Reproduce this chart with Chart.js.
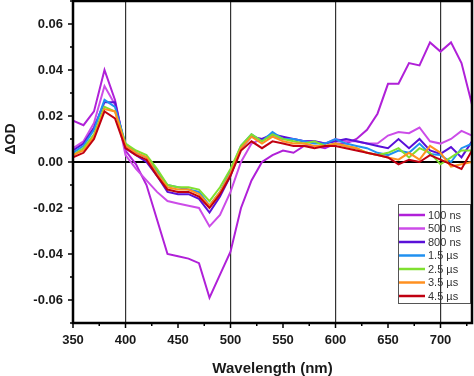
<!DOCTYPE html>
<html>
<head>
<meta charset="utf-8">
<script src="https://cdn.jsdelivr.net/npm/chart.js@4/dist/chart.umd.min.js"></script>
<style>
  html, body { margin: 0; padding: 0; background: #fff; }
</style>
</head>
<body>
<canvas id="chart" width="474" height="376"></canvas>
<script>
const wavelengths = [350, 360, 370, 380, 390, 400, 410, 420, 430, 440, 450, 460, 470, 480, 490, 500, 510, 520, 530,
  540, 550, 560, 570, 580, 590, 600, 610, 620, 630, 640, 650, 660, 670, 680, 690, 700, 710, 720, 730];

const delayLabels = ['100 ns', '500 ns', '800 ns', '1.5 µs', '2.5 µs', '3.5 µs', '4.5 µs'];
const delayColors = ['#b020d8', '#cc4ce8', '#5a10d8', '#2090f0', '#80e030', '#ff9020', '#c00010'];

const od100ns = [0.018, 0.016, 0.022, 0.040, 0.027, 0.005, -0.001, -0.010, -0.025, -0.040, -0.041, -0.042, -0.044, -0.059, -0.049, -0.039, -0.020, -0.008, 0.000,
  0.003, 0.005, 0.004, 0.007, 0.007, 0.006, 0.008, 0.008, 0.010, 0.014, 0.021, 0.034, 0.034, 0.043, 0.042, 0.052, 0.048, 0.052, 0.043, 0.025];
const od500ns = [0.006, 0.009, 0.017, 0.033, 0.025, 0.003, -0.003, -0.008, -0.013, -0.017, -0.018, -0.019, -0.020, -0.028, -0.023, -0.013, 0.000, 0.008, 0.010,
  0.011, 0.010, 0.010, 0.009, 0.009, 0.008, 0.010, 0.009, 0.009, 0.008, 0.008, 0.0115, 0.013, 0.0125, 0.015, 0.009, 0.008, 0.010, 0.0135, 0.0115];
const od800ns = [0.005, 0.008, 0.015, 0.026, 0.026, 0.006, 0.003, 0.000, -0.006, -0.013, -0.014, -0.014, -0.016, -0.022, -0.015, -0.006, 0.006, 0.011, 0.010,
  0.012, 0.011, 0.010, 0.009, 0.009, 0.008, 0.009, 0.010, 0.009, 0.008, 0.007, 0.006, 0.010, 0.006, 0.010, 0.005, 0.0035, 0.0065, 0.002, 0.009];
const od1500ns = [0.004, 0.007, 0.014, 0.027, 0.024, 0.008, 0.004, 0.002, -0.004, -0.010, -0.011, -0.012, -0.013, -0.019, -0.013, -0.004, 0.007, 0.012, 0.009,
  0.013, 0.010, 0.010, 0.009, 0.008, 0.008, 0.010, 0.008, 0.007, 0.006, 0.004, 0.003, 0.005, 0.004, 0.008, 0.0035, 0.003, 0.000, 0.006, 0.008];
const od2500ns = [0.003, 0.006, 0.012, 0.024, 0.022, 0.008, 0.005, 0.003, -0.003, -0.010, -0.011, -0.011, -0.012, -0.017, -0.011, -0.003, 0.007, 0.012, 0.009,
  0.012, 0.010, 0.009, 0.008, 0.009, 0.007, 0.008, 0.007, 0.006, 0.004, 0.003, 0.004, 0.006, 0.002, 0.006, 0.004, -0.001, 0.002, 0.005, 0.005];
const od3500ns = [0.003, 0.005, 0.011, 0.023, 0.022, 0.007, 0.004, 0.002, -0.005, -0.011, -0.012, -0.012, -0.014, -0.019, -0.013, -0.005, 0.006, 0.011, 0.008,
  0.011, 0.009, 0.008, 0.008, 0.007, 0.007, 0.008, 0.007, 0.006, 0.004, 0.003, 0.002, 0.001, 0.004, 0.001, 0.007, 0.004, -0.002, -0.001, 0.000];
const od4500ns = [0.002, 0.004, 0.010, 0.022, 0.019, 0.006, 0.003, 0.001, -0.006, -0.012, -0.013, -0.013, -0.015, -0.020, -0.014, -0.006, 0.005, 0.009, 0.006,
  0.009, 0.008, 0.007, 0.007, 0.006, 0.007, 0.007, 0.006, 0.005, 0.004, 0.003, 0.002, -0.001, 0.001, 0.000, 0.003, 0.001, -0.001, -0.003, 0.005];

const allSeries = [od100ns, od500ns, od800ns, od1500ns, od2500ns, od3500ns, od4500ns];

const textColor = '#1a1a1a';

// frame, minor/major ticks, axis titles and the boxed legend
const decor = {
  id: 'decor',
  beforeDraw(chart) {
    const { ctx } = chart;
    ctx.save();
    ctx.fillStyle = '#fff';
    ctx.fillRect(0, 0, chart.width, chart.height);

    // legend box (the 700 nm grid line is drawn over it afterwards)
    const bx = 398, by = 204, bw = 72, rowH = 13.5;
    ctx.strokeStyle = '#555';
    ctx.lineWidth = 1;
    ctx.strokeRect(bx + 0.5, by + 0.5, bw, 99);
    ctx.font = '11px "Liberation Sans", Arial, sans-serif';
    ctx.textBaseline = 'middle';
    ctx.textAlign = 'left';
    delayLabels.forEach((lab, i) => {
      const y = by + 11 + i * rowH;
      ctx.strokeStyle = delayColors[i];
      ctx.lineWidth = 2.5;
      ctx.beginPath();
      ctx.moveTo(bx + 1, y);
      ctx.lineTo(bx + 27, y);
      ctx.stroke();
      ctx.fillStyle = '#333';
      ctx.fillText(lab, bx + 30, y + 0.5);
    });
    ctx.restore();
  },
  afterDraw(chart) {
    const { ctx, chartArea: a } = chart;
    const xs = chart.scales.x, ys = chart.scales.y;
    ctx.save();
    ctx.strokeStyle = '#000';

    ctx.lineWidth = 1.5;
    for (let v = 350; v <= 725; v += 25) {
      const px = xs.getPixelForValue(v);
      const len = v % 50 === 0 ? 5 : 3;
      ctx.beginPath();
      ctx.moveTo(px, a.bottom);
      ctx.lineTo(px, a.bottom + len);
      ctx.stroke();
    }
    for (let k = -7; k <= 7; k++) {
      const py = ys.getPixelForValue(k / 100);
      const len = Math.abs(k) % 2 === 0 ? 5 : 3;
      ctx.beginPath();
      ctx.moveTo(a.left - len, py);
      ctx.lineTo(a.left, py);
      ctx.stroke();
    }

    ctx.lineWidth = 2.5;
    ctx.strokeRect(a.left, a.top, a.right - a.left, a.bottom - a.top);

    ctx.fillStyle = textColor;
    ctx.font = 'bold 15px "Liberation Sans", Arial, sans-serif';
    ctx.textAlign = 'center';
    ctx.textBaseline = 'middle';
    ctx.fillText('Wavelength (nm)', (a.left + a.right) / 2, 369);

    ctx.font = 'bold 14px "Liberation Sans", Arial, sans-serif';
    ctx.translate(11, ys.getPixelForValue(0.01));
    ctx.rotate(-Math.PI / 2);
    ctx.fillText('ΔOD', 0, 0);
    ctx.restore();
  }
};

const datasets = allSeries.map((series, i) => ({
  label: delayLabels[i],
  data: wavelengths.map((w, j) => ({ x: w, y: series[j] })),
  borderColor: delayColors[i],
  backgroundColor: delayColors[i],
  borderWidth: 2,
  pointRadius: 0,
  tension: 0,
  fill: false,
  order: allSeries.length - 1 - i
}));

new Chart(document.getElementById('chart'), {
  type: 'line',
  data: { datasets },
  options: {
    responsive: false,
    animation: false,
    layout: { padding: { top: 1, right: 2, left: 0, bottom: 0 } },
    plugins: {
      legend: { display: false },
      tooltip: { enabled: false }
    },
    scales: {
      x: {
        type: 'linear',
        min: 350,
        max: 730,
        afterFit: (s) => {
          s.height = 53;
          s.paddingLeft = 0;
          s.paddingRight = 0;
        },
        border: { display: false },
        grid: {
          drawTicks: false,
          lineWidth: 1.2,
          color: (c) => {
            const v = c.tick ? c.tick.value : NaN;
            return (v % 100 === 0 && v > 350 && v < 730) ? '#333' : 'rgba(0,0,0,0)';
          }
        },
        ticks: {
          stepSize: 25,
          autoSkip: false,
          maxRotation: 0,
          padding: 10,
          color: textColor,
          font: { family: '"Liberation Sans", Arial, sans-serif', size: 13, weight: 'bold' },
          callback: (v) => (v % 50 === 0 && v < 730) ? String(v) : ''
        }
      },
      y: {
        min: -0.07,
        max: 0.07,
        afterFit: (s) => {
          s.width = 73;
          s.paddingTop = 0;
          s.paddingBottom = 0;
        },
        border: { display: false },
        grid: {
          drawTicks: false,
          lineWidth: 2,
          color: (c) => (c.tick && Math.abs(c.tick.value) < 1e-9) ? '#000' : 'rgba(0,0,0,0)'
        },
        ticks: {
          stepSize: 0.01,
          autoSkip: false,
          padding: 10,
          color: textColor,
          font: { family: '"Liberation Sans", Arial, sans-serif', size: 13, weight: 'bold' },
          callback: (v) => {
            const k = Math.round(v * 100);
            return (Math.abs(k) % 2 === 0 && Math.abs(k) < 7) ? (k / 100).toFixed(2) : '';
          }
        }
      }
    }
  },
  plugins: [decor]
});
</script>
</body>
</html>
